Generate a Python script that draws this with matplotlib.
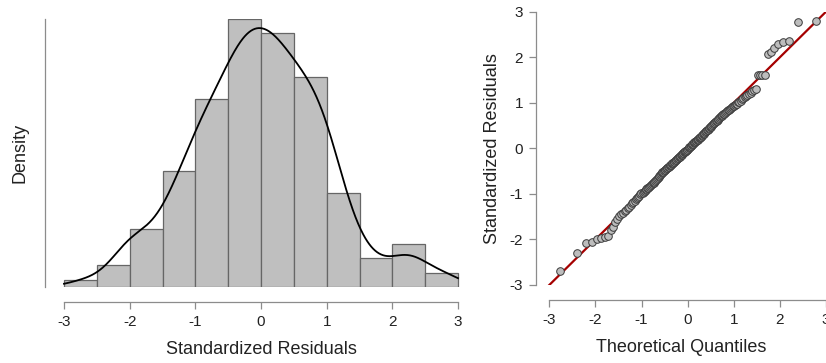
import numpy as np
import matplotlib
matplotlib.use("Agg")
import matplotlib.pyplot as plt

plt.rcParams['font.family'] = ['Liberation Sans', 'DejaVu Sans']
plt.rcParams['axes.unicode_minus'] = False

residuals = [
    -2.70,
    -2.30, -2.08, -2.05,
    -1.99, -1.97, -1.95, -1.93, -1.80, -1.72, -1.62, -1.55,
    -1.48, -1.45, -1.42, -1.38, -1.35, -1.32, -1.28, -1.24, -1.20, -1.17,
    -1.15, -1.12, -1.10, -1.07, -1.04, -1.01,
    -0.99, -0.97, -0.96, -0.94, -0.92, -0.90, -0.88, -0.86, -0.84, -0.82,
    -0.80, -0.79, -0.77, -0.75, -0.73, -0.71, -0.69, -0.67, -0.65, -0.63,
    -0.61, -0.59, -0.57, -0.55, -0.53, -0.51,
    -0.49, -0.48, -0.47, -0.45, -0.44, -0.43, -0.41, -0.40, -0.38, -0.37,
    -0.36, -0.34, -0.33, -0.32, -0.30, -0.29, -0.28, -0.26, -0.25, -0.24,
    -0.22, -0.21, -0.19, -0.18, -0.17, -0.15, -0.14, -0.12, -0.11, -0.10,
    -0.08, -0.07, -0.06, -0.05, -0.04, -0.03, -0.01,
    0.01, 0.02, 0.04, 0.05, 0.06, 0.08, 0.09, 0.10, 0.12, 0.13,
    0.15, 0.16, 0.17, 0.18, 0.19, 0.21, 0.22, 0.23, 0.25, 0.26,
    0.28, 0.29, 0.31, 0.32, 0.34, 0.35, 0.37, 0.38, 0.40, 0.41,
    0.43, 0.44, 0.46, 0.47, 0.49,
    0.51, 0.53, 0.55, 0.56, 0.58, 0.60, 0.61, 0.63, 0.65, 0.66,
    0.68, 0.70, 0.71, 0.73, 0.75, 0.76, 0.78, 0.80, 0.82, 0.84,
    0.85, 0.87, 0.89, 0.90, 0.92, 0.93, 0.95, 0.97, 0.98,
    1.01, 1.02, 1.05, 1.08, 1.10, 1.12, 1.15, 1.18, 1.20, 1.22, 1.25, 1.28, 1.30,
    1.60, 1.61, 1.62, 1.62,
    2.07, 2.12, 2.20, 2.28, 2.33, 2.36,
    2.78, 2.80,
]
bin_edges = [-3.0, -2.5, -2.0, -1.5, -1.0, -0.5, 0.0, 0.5, 1.0, 1.5, 2.0, 2.5, 3.0]
x_ticks = [-3, -2, -1, 0, 1, 2, 3]
y_ticks_qq = [-3, -2, -1, 0, 1, 2, 3]

res = np.sort(np.array(residuals))
n = len(res)

W, H = 826, 363
fig = plt.figure(figsize=(W / 100, H / 100), dpi=100)

def px_axes(l, t, r, b):
    return fig.add_axes([l / W, 1 - b / H, (r - l) / W, (b - t) / H])

spine_col = '#8c8c8c'
text_col = '#222222'

# ---------------- Histogram + density ----------------
ax1 = px_axes(45, 19, 460, 287)
counts, _ = np.histogram(res, bins=bin_edges)
dens = counts / (n * 0.5)
ax1.hist(res, bins=bin_edges, density=True, color='#bfbfbf',
         edgecolor='#666666', linewidth=0.9)

# Gaussian KDE
sd = np.std(res, ddof=1)
iqr = np.subtract(*np.percentile(res, [75, 25]))
bw = 0.9 * 0.9 * min(sd, iqr / 1.34) * n ** (-0.2)
grid = np.linspace(-3, 3, 600)
kde = np.exp(-0.5 * ((grid[:, None] - res[None, :]) / bw) ** 2).sum(axis=1) / (n * bw * np.sqrt(2 * np.pi))
ax1.plot(grid, kde, color='black', lw=1.3)

unit1 = (458 - 64) / 6
ax1.set_xlim(-3 - 19 / unit1, 3 + 2 / unit1)
ax1.set_ylim(0, dens.max())
ax1.set_yticks([])
ax1.set_xticks(x_ticks)
ax1.spines['top'].set_visible(False)
ax1.spines['right'].set_visible(False)
ax1.spines['bottom'].set_position(('outward', 10.8))
ax1.spines['bottom'].set_bounds(-3, 3)
for s in ('left', 'bottom'):
    ax1.spines[s].set_color(spine_col)
    ax1.spines[s].set_linewidth(0.9)
ax1.tick_params(axis='x', colors=spine_col, labelcolor=text_col, length=5,
                width=0.9, labelsize=11, pad=4)
ax1.set_xlabel('Standardized Residuals', fontsize=13, color=text_col, labelpad=9)
ax1.xaxis.label.set_x((261 - 45) / (460 - 45))
ax1.set_ylabel('Density', fontsize=13, color=text_col, labelpad=12)
ax1.patch.set_visible(False)

# ---------------- Q-Q plot ----------------
ax2 = px_axes(535.7, 11.7, 826, 285)
p = (np.arange(1, n + 1) - 0.5) / n
# inverse normal CDF (Acklam's rational approximation)
def norm_ppf(q):
    a = [-3.969683028665376e+01, 2.209460984245205e+02, -2.759285104469687e+02,
         1.383577518672690e+02, -3.066479806614716e+01, 2.506628277459239e+00]
    b = [-5.447609879822406e+01, 1.615858368580409e+02, -1.556989798598866e+02,
         6.680131188771972e+01, -1.328068155288572e+01]
    c = [-7.784894002430293e-03, -3.223964580411365e-01, -2.400758277161838e+00,
         -2.549732539343734e+00, 4.374664141464968e+00, 2.938163982698783e+00]
    d = [7.784695709041462e-03, 3.224671290700398e-01, 2.445134137142996e+00,
         3.754408661907416e+00]
    q = np.asarray(q, dtype=float)
    out = np.empty_like(q)
    lo = q < 0.02425
    hi = q > 1 - 0.02425
    mid = ~(lo | hi)
    qq = np.sqrt(-2 * np.log(q[lo]))
    out[lo] = (((((c[0]*qq+c[1])*qq+c[2])*qq+c[3])*qq+c[4])*qq+c[5]) / ((((d[0]*qq+d[1])*qq+d[2])*qq+d[3])*qq+1)
    qq = np.sqrt(-2 * np.log(1 - q[hi]))
    out[hi] = -(((((c[0]*qq+c[1])*qq+c[2])*qq+c[3])*qq+c[4])*qq+c[5]) / ((((d[0]*qq+d[1])*qq+d[2])*qq+d[3])*qq+1)
    qm = q[mid] - 0.5
    r = qm * qm
    out[mid] = (((((a[0]*r+a[1])*r+a[2])*r+a[3])*r+a[4])*r+a[5])*qm / (((((b[0]*r+b[1])*r+b[2])*r+b[3])*r+b[4])*r+1)
    return out

theo = norm_ppf(p)
ax2.plot([-3, 3], [-3, 3], color='#a50000', lw=1.6, zorder=1)
ax2.scatter(theo, res, s=30, facecolor='#bdbdbd', edgecolor='#3a3a3a',
            linewidths=0.7, zorder=2)

unit2 = (826 - 549.3) / 6
ax2.set_xlim(-3 - 13.6 / unit2, 3)
ax2.set_ylim(-3, 3)
ax2.set_xticks(x_ticks)
ax2.set_yticks(y_ticks_qq)
ax2.spines['top'].set_visible(False)
ax2.spines['right'].set_visible(False)
ax2.spines['bottom'].set_position(('outward', 10.8))
ax2.spines['bottom'].set_bounds(-3, 3)
ax2.spines['left'].set_bounds(-3, 3)
for s in ('left', 'bottom'):
    ax2.spines[s].set_color(spine_col)
    ax2.spines[s].set_linewidth(0.9)
ax2.tick_params(axis='both', colors=spine_col, labelcolor=text_col, length=5,
                width=0.9, labelsize=11, pad=4)
ax2.set_xlabel('Theoretical Quantiles', fontsize=13, color=text_col, labelpad=9)
ax2.set_ylabel('Standardized Residuals', fontsize=13, color=text_col, labelpad=6)
ax2.patch.set_visible(False)

fig.savefig('out.png', dpi=100)
